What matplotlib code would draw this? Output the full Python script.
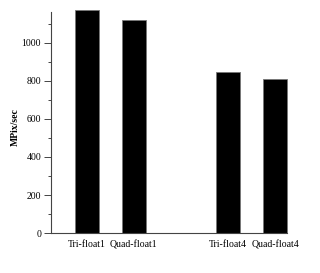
import matplotlib
matplotlib.use("Agg")
import matplotlib.pyplot as plt
from matplotlib.ticker import MultipleLocator

# bar data
labels = ['Tri-float1', 'Quad-float1', 'Tri-float4', 'Quad-float4']
positions = [0, 1, 3, 4]
values = [1172, 1119, 847, 810]

plt.rcParams['font.family'] = 'Liberation Serif'

fig = plt.figure(figsize=(3.2, 2.73), dpi=100)
ax = fig.add_axes([0.159, 0.1465, 0.738, 0.8095])

bars = ax.bar(positions, values, width=0.51, color='black', edgecolor='#777777', linewidth=0.6)
for b in bars:
    b.set_clip_on(False)

ax.set_xlim(-0.76, 4.255)
ax.set_ylim(0, 1163)
ax.yaxis.set_major_locator(MultipleLocator(200))
ax.yaxis.set_minor_locator(MultipleLocator(100))

ax.set_xticks(positions)
ax.set_xticklabels(labels, fontsize=7)
ax.tick_params(axis='x', length=0, pad=5)
ax.tick_params(axis='y', which='major', length=5, width=0.7, labelsize=7, pad=2, color='#444444')
ax.tick_params(axis='y', which='minor', length=2.5, width=0.7, color='#444444')

ax.spines['top'].set_visible(False)
ax.spines['right'].set_visible(False)
for s in ['left', 'bottom']:
    ax.spines[s].set_color('#444444')
    ax.spines[s].set_linewidth(0.8)

ax.set_ylabel('MPix/sec', fontsize=7, fontweight='bold')
ax.yaxis.set_label_coords(-0.13, 0.48)

fig.savefig('out.png', dpi=100)
